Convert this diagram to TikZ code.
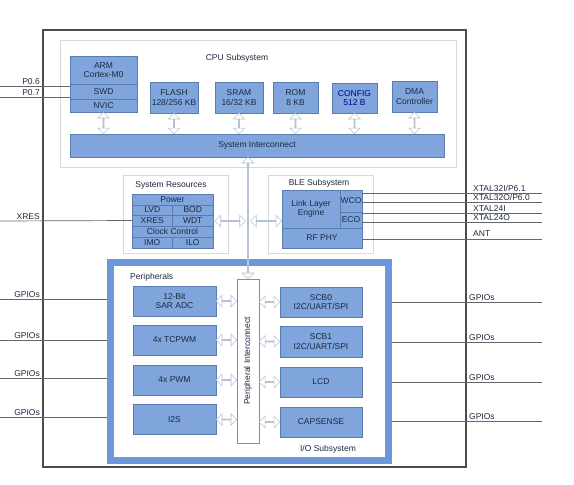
\documentclass[tikz,border=0pt]{standalone}
\usepackage{fontspec}
\setmainfont{Liberation Sans}
\usetikzlibrary{calc,shapes.arrows}
\definecolor{bfill}{HTML}{7FA5DC}
\definecolor{bline}{HTML}{5A7CAE}
\definecolor{iob}{HTML}{6C97DA}
\definecolor{ink}{HTML}{1D2940}
\definecolor{holc}{HTML}{B4C2D4}
\definecolor{subc}{HTML}{D9D9D9}
\newcommand\biarrow[2]{\path let \p1=(#1), \p2=(#2),
  \n1={veclen(\x2-\x1,\y2-\y1)}, \n2={atan2(\y2-\y1,\x2-\x1)} in
  node[hol, minimum height=\n1, rotate=\n2] at ($.5*(\p1)+.5*(\p2)$) {};}
\begin{document}
\begin{tikzpicture}[x=1pt,y=-1pt,font=\fontsize{8.5}{9.5}\selectfont,text=ink,
  blk/.style={draw=bline,fill=bfill,inner sep=0pt,align=center},
  sub/.style={draw=subc,fill=white,line width=.6pt},
  hol/.style={double arrow,draw=holc,fill=white,inner sep=0pt,minimum width=11.5pt,
    double arrow head extend=3pt,double arrow head indent=0pt,line width=.6pt},
  wire/.style={draw=black!60,line width=.7pt},
  lab/.style={inner sep=0pt}]
\useasboundingbox (0,0) rectangle (574,485);
% chip outline
\node[draw=black!70,line width=1.3pt,minimum width=423,minimum height=437] (chip) at (254.5,248.5) {};
% pins
\coordinate (p06) at (0,86);\coordinate (p07) at (0,97);\coordinate (xr) at (0,221);
\coordinate (x32i) at (542,193);\coordinate (x32o) at (542,202);
\coordinate (x24i) at (542,213);\coordinate (x24o) at (542,222);\coordinate (ant) at (542,239);
\coordinate (gl1) at (0,299);\coordinate (gl2) at (0,340);\coordinate (gl3) at (0,378);\coordinate (gl4) at (0,417);
\coordinate (gr1) at (542,302);\coordinate (gr2) at (542,342);\coordinate (gr3) at (542,382);\coordinate (gr4) at (542,421);
% CPU subsystem
\node[sub,minimum width=396,minimum height=127] (cpu) at (258,103.5) {};
\node (cputitle) at (237,58) {CPU Subsystem};
\node[blk,minimum width=67,minimum height=28] (arm) at (103.5,70) {ARM\\Cortex-M0};
\node[blk,minimum width=67,minimum height=15] (swd) at (103.5,91.5) {SWD};
\node[blk,minimum width=67,minimum height=13] (nvic) at (103.5,105.5) {NVIC};
\node[blk,minimum width=48,minimum height=31] (flash) at (174,97.5) {FLASH\\128/256 KB};
\node[blk,minimum width=48,minimum height=31] (sram) at (239,97.5) {SRAM\\16/32 KB};
\node[blk,minimum width=45,minimum height=31] (rom) at (295.5,97.5) {ROM\\8 KB};
\node[blk,minimum width=45,minimum height=30,text=blue!55!black] (config) at (354.5,98) {CONFIG\\512 B};
\node[blk,minimum width=45,minimum height=31] (dma) at (414.5,96.5) {DMA\\Controller};
\node[blk,minimum width=374,minimum height=23] (sysic) at (257,145.5) {System Interconnect};
% system resources
\node[sub,minimum width=105,minimum height=78] (sysres) at (175.5,214) {};
\node (srtitle) at (171,185) {System Resources};
\node[blk,minimum width=81,minimum height=11] (power) at (172.5,199.5) {Power};
\node[blk,minimum width=40.5,minimum height=10] (lvd) at (152.25,210) {LVD};
\node[blk,minimum width=40.5,minimum height=10] (bod) at (192.75,210) {BOD};
\node[blk,minimum width=40.5,minimum height=11] (xres) at (152.25,220.5) {XRES};
\node[blk,minimum width=40.5,minimum height=11] (wdt) at (192.75,220.5) {WDT};
\node[blk,minimum width=81,minimum height=11] (clk) at (172.5,231.5) {Clock Control};
\node[blk,minimum width=40.5,minimum height=11] (imo) at (152.25,242.5) {IMO};
\node[blk,minimum width=40.5,minimum height=11] (ilo) at (192.75,242.5) {ILO};
% BLE subsystem
\node[sub,minimum width=105,minimum height=78] (ble) at (320.5,214) {};
\node (bletitle) at (319,183) {BLE Subsystem};
\node[blk,minimum width=58,minimum height=38] (lle) at (311,209) {Link Layer\\Engine};
\node[blk,minimum width=22,minimum height=22] (wco) at (351,201) {WCO};
\node[blk,minimum width=22,minimum height=16] (eco) at (351,220) {ECO};
\node[blk,minimum width=80,minimum height=20] (rfphy) at (322,238) {RF PHY};
% wires
\draw[wire] (p06) -- (p06 -| swd.west);\draw[wire] (p07) -- (p07 -| swd.west);
\draw[wire] (xr) -- (xres.west);
\draw[wire] (x32i) -- (x32i -| wco.east);\draw[wire] (x32o) -- (x32o -| wco.east);
\draw[wire] (x24i) -- (x24i -| eco.east);\draw[wire] (x24o) -- (x24o -| eco.east);
\draw[wire] (ant) -- (ant -| rfphy.east);
\draw[wire] (gl1) -- (gl1 -| 113,0);\draw[wire] (gl2) -- (gl2 -| 113,0);
\draw[wire] (gl3) -- (gl3 -| 113,0);\draw[wire] (gl4) -- (gl4 -| 113,0);
\draw[wire] (gr1) -- (gr1 -| 385,0);\draw[wire] (gr2) -- (gr2 -| 385,0);
\draw[wire] (gr3) -- (gr3 -| 385,0);\draw[wire] (gr4) -- (gr4 -| 385,0);
% pin labels
\node[lab,anchor=base east] (lp06) at (40,84) {P0.6};\node[lab,anchor=base east] (lp07) at (40,95) {P0.7};
\node[lab,anchor=base east] (lxr) at (40,219) {XRES};
\node[lab,anchor=base west] (lx32i) at (473,191) {XTAL32I/P6.1};
\node[lab,anchor=base west] (lx32o) at (473,200) {XTAL32O/P6.0};
\node[lab,anchor=base west] (lx24i) at (473,211) {XTAL24I};
\node[lab,anchor=base west] (lx24o) at (473,220) {XTAL24O};
\node[lab,anchor=base west] (lant) at (473,236.5) {ANT};
\node[lab,anchor=base east] (lgl1) at (40,297) {GPIOs};\node[lab,anchor=base east] (lgl2) at (40,338) {GPIOs};
\node[lab,anchor=base east] (lgl3) at (40,376) {GPIOs};\node[lab,anchor=base east] (lgl4) at (40,415) {GPIOs};
\node[lab,anchor=base west] (lgr1) at (469,300) {GPIOs};\node[lab,anchor=base west] (lgr2) at (469,340) {GPIOs};
\node[lab,anchor=base west] (lgr3) at (469,380) {GPIOs};\node[lab,anchor=base west] (lgr4) at (469,419) {GPIOs};
% I/O subsystem
\node[draw=iob,fill=white,line width=7pt,minimum width=278,minimum height=198] (io) at (249,361) {};
\node[anchor=west,inner sep=0pt] (pertitle) at (130,277) {Peripherals};
\node (iotitle) at (328,449) {I/O Subsystem};
\node[draw=black!45,fill=white,line width=.6pt,rotate=90,minimum width=164,minimum height=22] (perif) at (248,361) {Peripheral Interconnect};
\node[blk,minimum width=83,minimum height=30] (adc) at (174.5,301) {12-Bit\\SAR ADC};
\node[blk,minimum width=83,minimum height=30] (tcpwm) at (174.5,340) {4x TCPWM};
\node[blk,minimum width=83,minimum height=30] (pwm) at (174.5,380) {4x PWM};
\node[blk,minimum width=83,minimum height=30] (i2s) at (174.5,419.5) {I2S};
\node[blk,minimum width=82,minimum height=30] (scb0) at (321,302) {SCB0\\I2C/UART/SPI};
\node[blk,minimum width=82,minimum height=31] (scb1) at (321,341.5) {SCB1\\I2C/UART/SPI};
\node[blk,minimum width=82,minimum height=30] (lcd) at (321,382) {LCD};
\node[blk,minimum width=82,minimum height=30] (caps) at (321,422) {CAPSENSE};
% bus arrows
\biarrow{nvic.south}{nvic.south |- sysic.north}
\biarrow{flash.south}{flash.south |- sysic.north}
\biarrow{sram.south}{sram.south |- sysic.north}
\biarrow{rom.south}{rom.south |- sysic.north}
\biarrow{config.south}{config.south |- sysic.north}
\biarrow{dma.south}{dma.south |- sysic.north}
\biarrow{perif.east}{perif.east |- sysic.south}
\biarrow{215,221}{245.5,221}
\biarrow{250.5,221}{lle.west |- 0,221}
\biarrow{adc.east}{adc.east -| perif.north}
\biarrow{tcpwm.east}{tcpwm.east -| perif.north}
\biarrow{pwm.east}{pwm.east -| perif.north}
\biarrow{i2s.east}{i2s.east -| perif.north}
\biarrow{scb0.west}{scb0.west -| perif.south}
\biarrow{scb1.west}{scb1.west -| perif.south}
\biarrow{lcd.west}{lcd.west -| perif.south}
\biarrow{caps.west}{caps.west -| perif.south}
\end{tikzpicture}
\end{document}
